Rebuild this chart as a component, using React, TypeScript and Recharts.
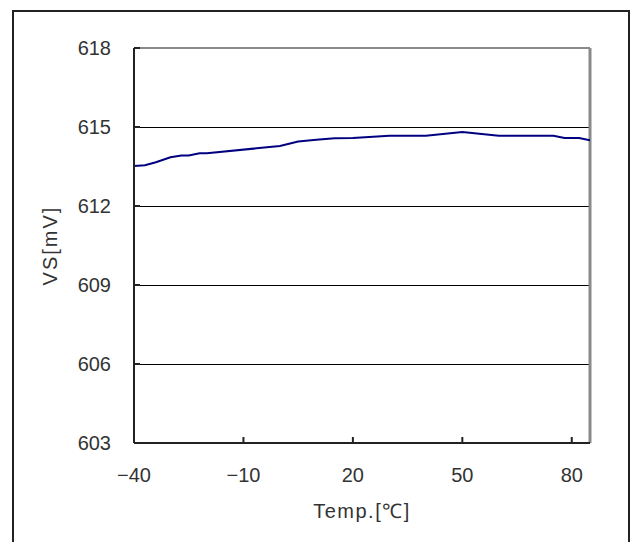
import { CartesianGrid, Label, Line, LineChart, ReferenceLine, XAxis, YAxis } from "recharts";

// temperature sweep (°C) and measured VS (mV)
const temps = [-40, -37, -34, -30, -27, -25, -22, -20, 0, 5, 10, 15, 20, 30, 40, 50, 60, 75, 78, 80, 82, 85];
const vs = [
  613.52, 613.55, 613.66, 613.85, 613.92, 613.92, 614.0, 614.0, 614.28, 614.45, 614.52, 614.57, 614.58,
  614.67, 614.67, 614.81, 614.67, 614.67, 614.58, 614.58, 614.58, 614.5,
];
const xTicks = [-40, -10, 20, 50, 80];
const yTicks = [603, 606, 609, 612, 615, 618];

const data = temps.map((t, i) => ({ t, v: vs[i] }));

const font = "'Liberation Sans', Arial, sans-serif";
const fmt = (n: number) => (n < 0 ? `\u2212${Math.abs(n)}` : `${n}`);

export default function App() {
  return (
    <div style={{ position: "absolute", left: 0, top: 0, width: 635, height: 542, background: "#fff" }}>
      <div
        style={{
          position: "absolute",
          left: 12,
          top: 10,
          width: 618,
          height: 560,
          border: "2px solid #222",
          boxSizing: "border-box",
        }}
      />
      <div style={{ position: "absolute", left: 0, top: 0 }}>
        <LineChart width={635} height={542} data={data} margin={{ top: 48, right: 45, left: 0, bottom: 0 }}>
          <CartesianGrid
            vertical={false}
            horizontalValues={[606, 609, 612, 615]}
            stroke="#000"
            strokeWidth={1}
            shapeRendering="crispEdges"
          />
          <ReferenceLine y={618} stroke="#8a8a8a" strokeWidth={2} />
          <ReferenceLine x={85} stroke="#8a8a8a" strokeWidth={3} />
          <XAxis
            dataKey="t"
            type="number"
            domain={[-40, 85]}
            ticks={xTicks}
            allowDataOverflow
            height={99}
            stroke="#222"
            strokeWidth={2}
            tickSize={-6}
            tickMargin={31}
            tickFormatter={fmt}
            tick={{ fontSize: 20, fill: "#333", fontFamily: font }}
          >
            <Label
              content={(props: any) => {
                const vb = props.viewBox;
                return (
                  <text
                    x={vb.x + vb.width / 2}
                    y={vb.y + 75}
                    textAnchor="middle"
                    fontSize={20}
                    fontFamily={font}
                    letterSpacing={1.5}
                    fill="#333"
                  >
                    Temp.[℃]
                  </text>
                );
              }}
            />
          </XAxis>
          <YAxis
            type="number"
            domain={[603, 618]}
            ticks={yTicks}
            allowDataOverflow
            width={134}
            stroke="#222"
            strokeWidth={2}
            tickSize={-6}
            tickMargin={29}
            tick={{ fontSize: 20, fill: "#333", fontFamily: font }}
          >
            <Label
              content={(props: any) => {
                const vb = props.viewBox;
                const cx = vb.x + 50;
                const cy = vb.y + vb.height / 2;
                return (
                  <text
                    x={cx}
                    y={cy}
                    transform={`rotate(-90 ${cx} ${cy})`}
                    textAnchor="middle"
                    dominantBaseline="central"
                    fontSize={20}
                    fontFamily={font}
                    letterSpacing={2}
                    fill="#333"
                  >
                    VS[mV]
                  </text>
                );
              }}
            />
          </YAxis>
          <Line type="linear" dataKey="v" stroke="#000080" strokeWidth={2} dot={false} isAnimationActive={false} />
        </LineChart>
      </div>
    </div>
  );
}
